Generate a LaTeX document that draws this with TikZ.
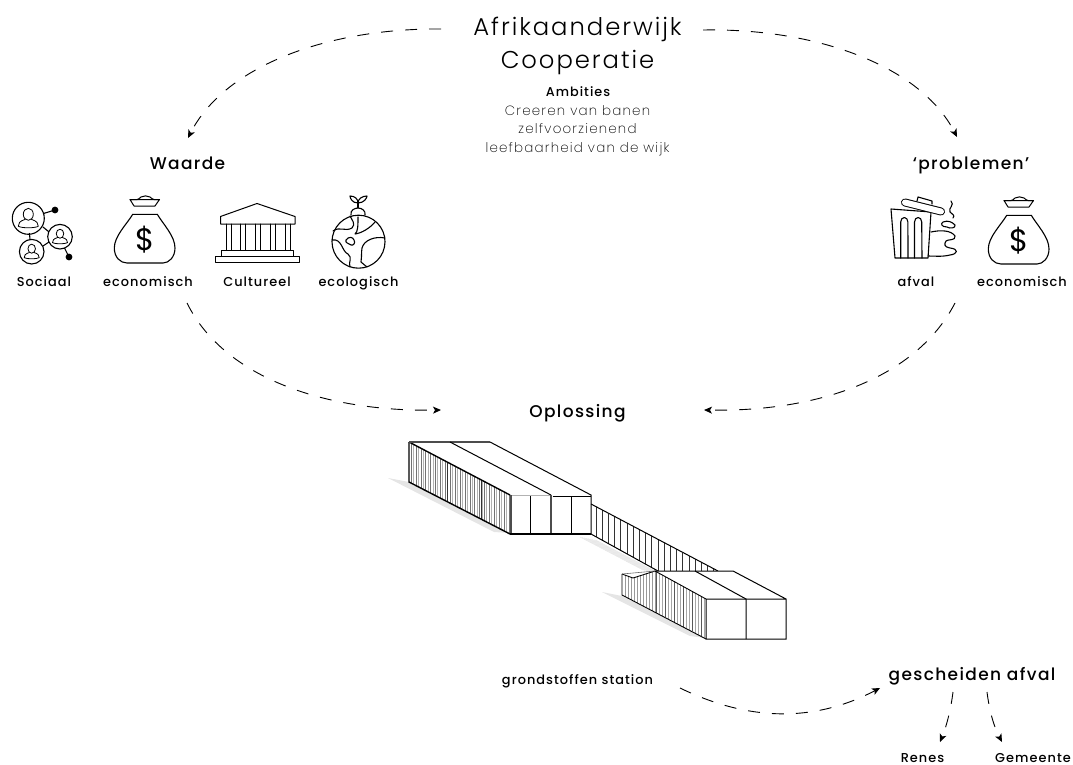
\documentclass[tikz,border=0pt]{standalone}
\usepackage{fontspec}
\setmainfont{Poppins}
\newfontfamily\thinf[LetterSpace=8]{Poppins Light}
\newfontfamily\bodyf[LetterSpace=9]{Poppins ExtraLight}
\newfontfamily\labf[LetterSpace=8]{Poppins Medium}
\usetikzlibrary{arrows.meta}
\definecolor{shadegray}{gray}{0.9}
\tikzset{
 flow/.style={draw=black,line width=0.9pt,dash pattern=on 12pt off 12pt,-{Stealth[length=8pt,width=7pt,inset=2pt]}},
 icon/.style={draw=black,line width=1.1pt,line join=round,line cap=round},
 wall/.style={draw=black,line width=1pt,line join=miter},
 title/.style={inner sep=0pt,anchor=base,font=\thinf\fontsize{24.3}{30}\selectfont},
 body/.style={inner sep=0pt,anchor=base,font=\bodyf\fontsize{13.4}{16}\selectfont},
 head/.style={inner sep=0pt,anchor=base,font=\labf\fontsize{17}{20}\selectfont},
 lab/.style={inner sep=0pt,anchor=base,font=\labf\fontsize{12.9}{15}\selectfont},
 moneybag/.pic={
  \draw[icon,line width=1pt] (-15,19.5) -- (14.5,19.5) -- (10,26) -- (-11,26) -- cycle;
  \draw[icon,line width=1pt] (-15,19.5) .. controls (-8,20) and (-7,20) .. (-4,17) .. controls (-1,15.5) and (2,15.5) .. (5,17) .. controls (8,20) and (10,20) .. (14.5,19.5);
  \draw[icon] (-12.3,34.3) -- (12.3,34.3) .. controls (18,44) and (30,56) .. (30,68) .. controls (30,77) and (24,83) .. (18,83) -- (-18,83) .. controls (-25,83) and (-30.7,77) .. (-30.7,68) .. controls (-30.7,56) and (-18,44) .. (-12.3,34.3) -- cycle;
  \node[inner sep=0pt,font=\fontspec{Poppins}\fontsize{31}{31}\selectfont] at (0,60) {\$};
 },
}
\begin{document}
\begin{tikzpicture}[x=1pt,y=-1pt]
\useasboundingbox (0,0) rectangle (1073,765);
% --- text
\node[title] (t1) at (577.5,35.5) {Afrikaanderwijk};
\node[title] (t2) at (577.5,68.5) {Cooperatie};
\node[body,font=\labf\fontsize{12.8}{15}\selectfont] (amb) at (578,97) {Ambities};
\node[body] (am1) at (577.5,116) {Creeren van banen};
\node[body] (am2) at (577.5,134) {zelfvoorzienend};
\node[body] (am3) at (577.5,152) {leefbaarheid van de wijk};
\node[head] (waarde) at (187.5,169) {Waarde};
\node[head] (prob) at (971,169) {‘problemen’};
\node[head] (opl) at (577.5,417) {Oplossing};
\node[lab] (soc) at (44,286) {Sociaal};
\node[lab] (eco1) at (148,286.5) {economisch};
\node[lab] (cul) at (257,286) {Cultureel};
\node[lab] (ecol) at (358.5,286) {ecologisch};
\node[lab] (afv) at (916,286) {afval};
\node[lab] (eco2) at (1022,286) {economisch};
\node[lab] (gron) at (577.5,684) {grondstoffen station};
\node[head] (ges) at (972,680) {gescheiden afval};
\node[lab] (ren) at (922.5,762) {Renes};
\node[lab] (gem) at (1033,762) {Gemeente};
% --- connectors
\coordinate (a1s) at (441,29); \coordinate (a1e) at (188,138);
\coordinate (a2s) at (703,30); \coordinate (a2e) at (957,137);
\coordinate (a3s) at (187,303); \coordinate (a3e) at (441,410);
\coordinate (a4s) at (955,303); \coordinate (a4e) at (704,410);
\coordinate (a5s) at (680,688); \coordinate (a5e) at (880,688);
\coordinate (a6s) at (953,692); \coordinate (a6e) at (940,742);
\coordinate (a7s) at (987,692); \coordinate (a7e) at (1002,742);
\path[flow] (a1s) .. controls (330,28) and (225,65) .. (a1e);
\path[flow] (a2s) .. controls (815,28) and (920,65) .. (a2e);
\path[flow] (a3s) .. controls (225,380) and (330,412) .. (a3e);
\path[flow] (a4s) .. controls (915,380) and (815,412) .. (a4e);
\path[flow] (a5s) .. controls (750,722) and (815,722) .. (a5e);
\path[flow] (a6s) .. controls (951,708) and (947,725) .. (a6e);
\path[flow] (a7s) .. controls (989,708) and (993,725) .. (a7e);
% --- social icon
\draw[icon] (28.3,218.3) circle (16);
\draw[icon] (60,236.7) circle (12.3);
\draw[icon] (31.7,251.7) circle (12.3);
\fill (55,210) circle (3.4);
\fill (69,257) circle (3.4);
\draw[icon] (43.5,213.5) -- (55,210);
\draw[icon] (64.5,248) -- (69,257);
\draw[icon] (43,227) -- (48.5,231.5);
\draw[icon] (49,242) -- (43,246);
\draw[icon] (29.5,233.5) -- (30,239.5);
\foreach \cx/\cy/\s in {28.3/218.3/1,60/236.7/.75,31.7/251.7/.75}{
 \begin{scope}[shift={(\cx,\cy)},scale=\s]
  \draw[icon,line width=.8pt] (0,-4) ellipse (5 and 6);
  \draw[icon,line width=.8pt] (-3,1) .. controls (-9,3) and (-10,5) .. (-10,8) .. controls (-6,10) and (6,10) .. (10,8) .. controls (10,5) and (9,3) .. (3,1);
 \end{scope}}
% --- money bags
\pic at (145,180) {moneybag};
\pic at (1019,181) {moneybag};
% --- temple
\draw[icon,line width=1pt] (220.5,216.5) -- (257,203.5) -- (295,216.5) -- (295,224) -- (220.5,224) -- cycle;
\foreach \x in {226.7,231.7,240,245,255,260,270,275,285,290} \draw[icon,line width=.9pt] (\x,224) -- (\x,250);
\draw[icon,line width=1pt] (221.5,250.5) -- (293.5,250.5) -- (293.5,256) -- (221.5,256) -- cycle;
\draw[icon,line width=1pt] (215,256) -- (299,256) -- (299,262) -- (215,262) -- cycle;
% --- globe
\draw[icon] (358.5,241.7) circle (26.5);
\draw[icon] (351,215) .. controls (350,210) and (355,208) .. (358,208) .. controls (362,208) and (366,211) .. (365,215);
\draw[icon] (358,208) -- (358,203);
\draw[icon] (358,203) .. controls (352,203) and (350,198) .. (350,196) .. controls (355,196) and (358,199) .. (358,203);
\draw[icon] (358,203) .. controls (364,203) and (367,198) .. (367,196) .. controls (362,196) and (358,199) .. (358,203);
\draw[icon] (333,231) .. controls (340,226) and (345,232) .. (352,228) .. controls (356,224) and (352,220) .. (350,216);
\draw[icon] (358,217) .. controls (358,225) and (358,232) .. (355,234) .. controls (362,233) and (370,228) .. (375,222);
\draw[icon] (332,240) .. controls (342,238) and (342,252) .. (348,254) .. controls (353,258) and (348,262) .. (350,267);
\draw[icon] (385,238) .. controls (375,236) and (364,240) .. (362,248) .. controls (361,256) and (362,258) .. (361,262) .. controls (363,264) and (366,266) .. (367,267);
\draw[icon] (346,240) .. controls (349,236) and (353,237) .. (354,240) .. controls (356,243) and (353,246) .. (351,245) .. controls (348,243) and (345,243) .. (346,240);
% --- bin
\draw[icon] (951,201) .. controls (955,205) and (948,208) .. (950,212) .. controls (953,215) and (955,215) .. (953,218);
\draw[icon] (943,222) .. controls (940,224) and (942,227) .. (947,227) .. controls (950,229) and (956,228) .. (955,225) .. controls (952,222) and (948,220) .. (943,222);
\draw[icon] (931,232) .. controls (940,230) and (951,230) .. (955,236) .. controls (956,241) and (948,239) .. (946,241) .. controls (944,244) and (944,247) .. (950,248) .. controls (959,249) and (958,254) .. (950,255) .. controls (942,257) and (934,256) .. (928,256);
\draw[icon] (891,209) -- (931,212) -- (928,258) -- (895,258) -- cycle;
\draw[icon] (900.7,258) -- (900.7,222) arc (180:360:3.6 and 4.5) -- (908,258);
\draw[icon] (914.5,258) -- (914.5,222) arc (180:360:3.6 and 4.5) -- (922,258);
\draw[icon] (917,201) -- (918,197) -- (932,201) -- (932,204);
\draw[line width=8pt,line cap=round,black] (905,202.5) -- (941,211.5);
\draw[line width=6pt,line cap=round,white] (905,202.5) -- (941,211.5);
% --- building shadows
\fill[shadegray] (388,478) -- (409,482) -- (510,533) -- (494,532) -- cycle;
\fill[shadegray] (602,592) -- (622,596) -- (706,638) -- (690,636) -- cycle;
\foreach \i in {0,...,8} \draw[shadegray,line width=.5pt] (580+\i*2,537+\i*.4) -- (643+\i*2,570+\i*.4);
% --- block 1
\foreach \i in {0,1,...,40}{
 \pgfmathsetmacro\xx{411+\i*2.45}
 \pgfmathsetmacro\yt{442+(\xx-409)*0.525}
 \pgfmathsetmacro\yb{482+(\xx-409)*0.515}
 \pgfmathtruncatemacro\m{mod(\i,2)}
 \ifnum\m=0 \draw[black!55,line width=.45pt] (\xx,\yt) -- (\xx,\yb); \else \draw[black!30,line width=1pt] (\xx,\yt) -- (\xx,\yb); \fi
}
\foreach \xx in {447,481} {
 \pgfmathsetmacro\yt{442+(\xx-409)*0.525}
 \pgfmathsetmacro\yb{482+(\xx-409)*0.515}
 \draw[black!80,line width=.6pt] (\xx,\yt) -- (\xx,\yb);
}
\draw[black,line width=1.4pt] (409,442) -- (510,495);
\draw[black,line width=1.4pt] (510,534) -- (409,482) -- (409,442);
\draw[black!70,line width=1.3pt] (409,442) -- (490,442);
\draw[wall] (490,442) -- (591,495) -- (591,534);
\draw[wall] (450,442) -- (551,495);
\draw[black!30,line width=1.6pt] (511,495.5) -- (551,495.5);
\draw[black!70,line width=1.5pt] (511,495) -- (511,534);
\draw[black!70,line width=1.5pt] (551,495) -- (551,534);
\draw[wall] (552.5,496) -- (591,496);
\draw[wall] (530,496) -- (530,534);
\draw[wall] (571,496) -- (571,534);
\draw[black,line width=1.6pt] (510,534) -- (591,534);
% --- walkway
\foreach \xx in {596,602.2,608.4,614.6,620.8,627,633.2,639.4,645.6,651.8,658,664.2,670.4,676.6,682.8,689,695.2,701.4,707.6,713.8}{
 \pgfmathsetmacro\yt{504+(\xx-590)*0.523}
 \pgfmathsetmacro\yb{534+(\xx-590)*0.545}
 \pgfmathsetmacro\ybb{min(\yb,571)}
 \draw[black!80,line width=.8pt] (\xx,\yt) -- (\xx,\ybb);
}
\draw[wall] (591,504) -- (718,571);
\draw[wall] (591,534) -- (658,571);
% --- block 2
\fill[white] (655,571) -- (733,571) -- (786,599) -- (706,599) -- cycle;
\foreach \i in {0,1,...,16}{
 \pgfmathsetmacro\xx{656+\i*3}
 \pgfmathsetmacro\yt{571+(\xx-655)*0.55}
 \pgfmathsetmacro\yb{595+(\xx-622)*0.52}
 \pgfmathtruncatemacro\m{mod(\i,3)}
 \ifnum\m=0 \draw[black!65,line width=.55pt] (\xx,\yt) -- (\xx,\yb); \else \draw[black!35,line width=.9pt] (\xx,\yt) -- (\xx,\yb); \fi
}
\foreach \i in {0,1,...,10}{
 \pgfmathsetmacro\xx{625+\i*3}
 \pgfmathsetmacro\yt{\xx<633 ? 574+(\xx-622)*0.36 : 578-(\xx-633)*0.32}
 \pgfmathsetmacro\yb{595+(\xx-622)*0.52}
 \draw[black!40,line width=.9pt] (\xx,\yt) -- (\xx,\yb);
}
\draw[wall,line width=.9pt] (622,574) -- (622,595) -- (706,639);
\draw[wall,line width=.9pt] (622,574) -- (633,578) -- (655,571) -- (706,599);
\draw[black!60,line width=.6pt] (622,574) -- (655,571);
\draw[wall] (655,571) -- (733,571) -- (786,599) -- (786,639) -- (706,639) -- (706,599) -- (786,599);
\draw[wall] (695,571) -- (746,599) -- (746,639);
\end{tikzpicture}
\end{document}
